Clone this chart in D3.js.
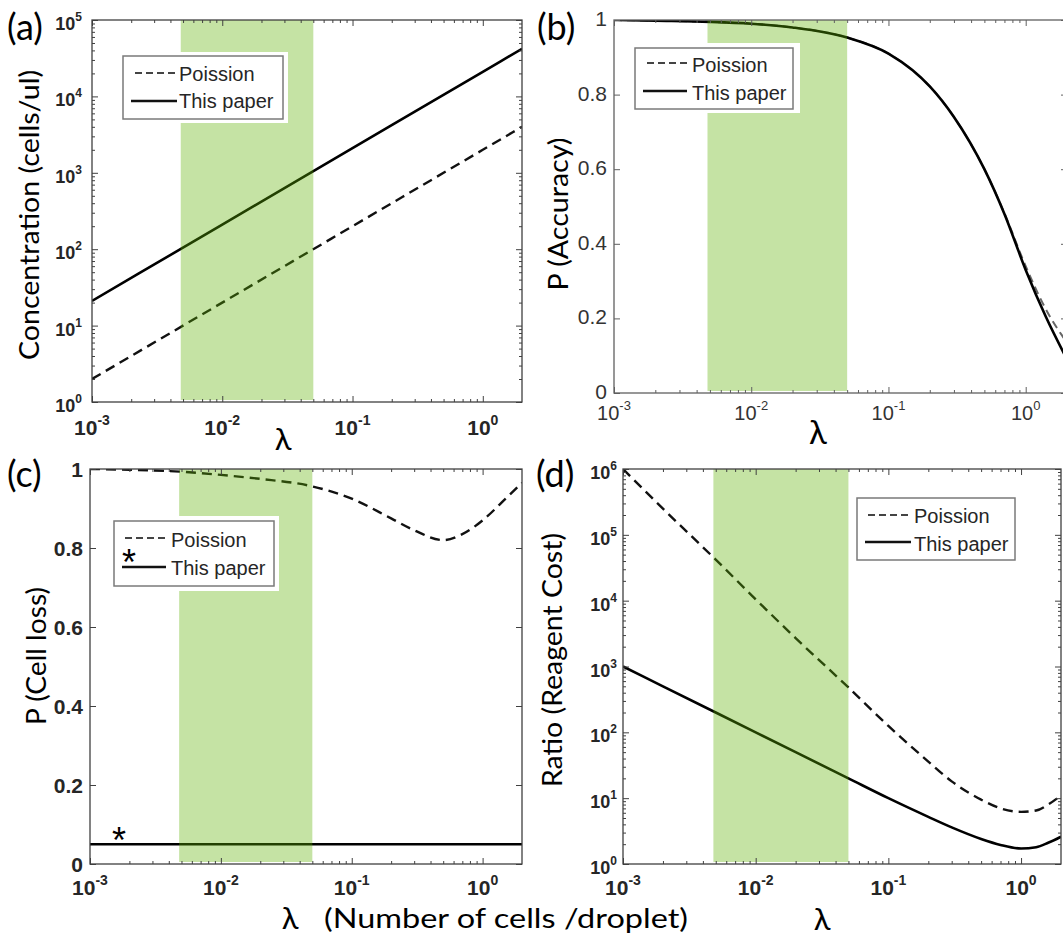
<!DOCTYPE html>
<html>
<head>
<meta charset="utf-8">
<script src="https://cdn.jsdelivr.net/npm/d3@7"></script>
<style>
  body { margin: 0; background: #fff; }
  svg { display: block; }
</style>
</head>
<body>
<svg id="chart" width="1063" height="936"></svg>
<script>
// ---- data ----
const xDomain = [0.001, 2];
const bandRange = [0.0048, 0.05];          // shaded lambda window
const seriesNames = ["Poission", "This paper"];
const xTickVals = [0.001, 0.01, 0.1, 1];

// (a) concentration
const lambdaA = [0.001, 0.01, 0.1, 1, 2];
const poissonA = [2, 20, 200, 2000, 4000];
const paperA = [21, 210, 2100, 21000, 42000];
const yTicksA = [1, 10, 100, 1000, 10000, 100000];

// (b) accuracy
const lambdaB = [0.001, 0.002, 0.005, 0.01, 0.02, 0.05, 0.1, 0.15, 0.2, 0.3, 0.5, 0.7, 1, 1.4, 2];
const poissonB = [1, 0.998, 0.995, 0.99, 0.98, 0.953, 0.91, 0.865, 0.822, 0.74, 0.6, 0.482, 0.34, 0.225, 0.135];
const paperB = [1, 0.998, 0.995, 0.99, 0.98, 0.953, 0.91, 0.865, 0.822, 0.74, 0.6, 0.48, 0.33, 0.205, 0.09];
const yTicksB = [0, 0.2, 0.4, 0.6, 0.8, 1];

// (c) cell loss
const lambdaC = [0.001, 0.002, 0.005, 0.01, 0.02, 0.05, 0.1, 0.2, 0.3, 0.5, 0.7, 1, 1.5, 2];
const poissonC = [1, 0.998, 0.993, 0.985, 0.975, 0.956, 0.925, 0.875, 0.845, 0.82, 0.835, 0.87, 0.925, 0.965];
const lambdaC2 = [0.001, 2];
const paperC = [0.05, 0.05];
const yTicksC = [0, 0.2, 0.4, 0.6, 0.8, 1];

// (d) reagent cost ratio
const lambdaD = [0.001, 0.002, 0.005, 0.01, 0.02, 0.05, 0.1, 0.2, 0.3, 0.5, 0.7, 1, 1.3, 1.6, 2];
const poissonD = [1e6, 2.5e5, 4.2e4, 1.05e4, 2.7e3, 480, 125, 36, 18, 9.5, 7, 6.2, 6.5, 8, 11];
const paperD = [1000, 500, 200, 100, 50, 20, 10, 5.2, 3.6, 2.4, 1.95, 1.72, 1.8, 2.1, 2.6];
const yTicksD = [1, 10, 100, 1000, 10000, 100000, 1000000];

// ---- layout ----
const svg = d3.select('#chart');
const TICK_FONT = "'Liberation Sans', Arial, sans-serif";
const TITLE_FONT = "Lato, 'Noto Sans', sans-serif";

const panels = [
  {
    id: 'a', tag: '(a)', tagX: 7, tagY: 40,
    left: 92, right: 522, top: 20, bottom: 402,
    logY: true, yDomain: [1, 1e5], yTicks: yTicksA,
    lines: [[lambdaA, poissonA, 'dash'], [lambdaA, paperA, 'solid']],
    bold: true, axisColor: '#404040',
    yLab: { gap: 10, dy: 10, size: 18 }, xLab: { dy: 33, size: 21 },
    title: 'Concentration (cells/ul)', titleX: 39, titleY: 215, titleLen: 290,
    legend: { white: [120, 52, 288, 123], box: [123, 56, 283, 119], dash: [135, 177, 73], solid: [131, 177, 101], tx: 179, ty: [81, 108] }
  },
  {
    id: 'b', tag: '(b)', tagX: 537, tagY: 40,
    left: 614, right: 1067, top: 20, bottom: 393,
    logY: false, yDomain: [0, 1], yTicks: yTicksB,
    lines: [[lambdaB, poissonB, 'dashGrey'], [lambdaB, paperB, 'solid']],
    bold: false, axisColor: '#606060',
    yLab: { gap: 7, dy: 6, size: 21 }, xLab: { dy: 27, size: 20 },
    title: 'P (Accuracy)', titleX: 568, titleY: 214, titleLen: 153,
    legend: { white: [700, 43, 800, 113], box: [635, 48, 793, 109], dash: [647, 687, 63], solid: [643, 687, 91], tx: 692, ty: [72, 100] }
  },
  {
    id: 'c', tag: '(c)', tagX: 7, tagY: 487,
    left: 90, right: 522, top: 469, bottom: 864,
    logY: false, yDomain: [0, 1], yTicks: yTicksC,
    lines: [[lambdaC, poissonC, 'dash'], [lambdaC2, paperC, 'solid']],
    bold: true, axisColor: '#404040',
    yLab: { gap: 7, dy: 8, size: 21 }, xLab: { dy: 31, size: 21 },
    title: 'P (Cell loss)', titleX: 46, titleY: 656, titleLen: 138,
    legend: { white: [110, 516, 279, 591], box: [114, 521, 274, 586], dash: [125, 166, 538], solid: [122, 166, 567], tx: 171, ty: [547, 575] }
  },
  {
    id: 'd', tag: '(d)', tagX: 536, tagY: 487,
    left: 623, right: 1061, top: 469, bottom: 864,
    logY: true, yDomain: [1, 1e6], yTicks: yTicksD,
    lines: [[lambdaD, poissonD, 'dash'], [lambdaD, paperD, 'solid']],
    bold: true, axisColor: '#404040',
    yLab: { gap: 6, dy: 10, size: 18 }, xLab: { dy: 31, size: 21 },
    title: 'Ratio (Reagent Cost)', titleX: 562, titleY: 660, titleLen: 254,
    legend: { white: null, box: [857, 498, 1015, 560], dash: [868, 911, 515], solid: [865, 911, 542], tx: 914, ty: [523, 551] }
  }
];

const lineStyles = {
  dash: { stroke: '#111', width: 2.4, dash: '10,6' },
  dashGrey: { stroke: '#666', width: 2, dash: '8,5' },
  solid: { stroke: '#000', width: 2.6, dash: null }
};

// minor ticks 2..9 per decade inside a log domain
function minorTicks(domain) {
  const out = [];
  const lo = Math.floor(Math.log10(domain[0]));
  const hi = Math.ceil(Math.log10(domain[1]));
  for (let k = lo; k < hi; k++) {
    for (let m = 2; m <= 9; m++) {
      const v = m * Math.pow(10, k);
      if (v > domain[0] && v < domain[1]) out.push(v);
    }
  }
  return out;
}

// "10" with superscript exponent
function powerText(sel, exp, size) {
  sel.text(null);
  sel.append('tspan').text('10');
  sel.append('tspan')
    .attr('font-size', Math.round(size * 0.66))
    .attr('dy', -size * 0.5)
    .text(exp);
}

function drawPanel(p) {
  const g = svg.append('g').attr('class', 'panel-' + p.id);
  const x = d3.scaleLog().domain(xDomain).range([p.left, p.right]);
  const y = (p.logY ? d3.scaleLog() : d3.scaleLinear()).domain(p.yDomain).range([p.bottom, p.top]);

  // clip to plot box
  svg.append('defs').append('clipPath').attr('id', 'clip-' + p.id)
    .append('rect')
    .attr('x', p.left).attr('y', p.top)
    .attr('width', p.right - p.left).attr('height', p.bottom - p.top);

  const plot = g.append('g').attr('clip-path', `url(#clip-${p.id})`);

  // curves
  const line = d3.line()
    .x(d => x(d[0]))
    .y(d => y(d[1]))
    .curve(d3.curveMonotoneX);

  p.lines.forEach(([xs, ys, style]) => {
    const s = lineStyles[style];
    plot.append('path')
      .datum(d3.zip(xs, ys))
      .attr('d', line)
      .attr('fill', 'none')
      .attr('stroke', s.stroke)
      .attr('stroke-width', s.width)
      .attr('stroke-dasharray', s.dash);
  });

  // green window, drawn over the curves (translucent)
  plot.append('rect')
    .attr('x', x(bandRange[0]))
    .attr('y', p.top)
    .attr('width', x(bandRange[1]) - x(bandRange[0]))
    .attr('height', p.bottom - p.top - 2)
    .attr('fill', '#5eb102')
    .attr('fill-opacity', 0.36);

  // axes (ticks pointing inward on all four sides)
  const axes = g.append('g').attr('class', 'axes');
  const major = 6, minor = 3;
  const addAxis = (axis, tx, ty) => {
    const a = axes.append('g').attr('transform', `translate(${tx},${ty})`).call(axis);
    a.select('.domain').remove();
    a.selectAll('line').attr('stroke', p.axisColor);
    a.selectAll('text').remove();
  };
  addAxis(d3.axisBottom(x).tickValues(xTickVals).tickSize(-major), 0, p.bottom);
  addAxis(d3.axisTop(x).tickValues(xTickVals).tickSize(-major), 0, p.top);
  addAxis(d3.axisBottom(x).tickValues(minorTicks(xDomain)).tickSize(-minor), 0, p.bottom);
  addAxis(d3.axisTop(x).tickValues(minorTicks(xDomain)).tickSize(-minor), 0, p.top);
  addAxis(d3.axisLeft(y).tickValues(p.yTicks).tickSize(-major), p.left, 0);
  addAxis(d3.axisRight(y).tickValues(p.yTicks).tickSize(-major), p.right, 0);
  if (p.logY) {
    addAxis(d3.axisLeft(y).tickValues(minorTicks(p.yDomain)).tickSize(-minor), p.left, 0);
    addAxis(d3.axisRight(y).tickValues(minorTicks(p.yDomain)).tickSize(-minor), p.right, 0);
  }

  axes.append('rect')
    .attr('x', p.left).attr('y', p.top)
    .attr('width', p.right - p.left).attr('height', p.bottom - p.top)
    .attr('fill', 'none')
    .attr('stroke', p.axisColor)
    .attr('stroke-width', 1.3);

  // tick labels
  const labG = g.append('g')
    .attr('font-family', TICK_FONT)
    .attr('font-weight', p.bold ? 'bold' : 'normal')
    .attr('fill', p.bold ? '#262626' : '#333');

  labG.selectAll('.xlab')
    .data(xTickVals)
    .join('text')
    .attr('class', 'xlab')
    .attr('x', d => x(d))
    .attr('y', p.bottom + p.xLab.dy)
    .attr('text-anchor', 'middle')
    .attr('font-size', p.xLab.size)
    .each(function (d) {
      powerText(d3.select(this), String(Math.round(Math.log10(d))), p.xLab.size);
    });

  labG.selectAll('.ylab')
    .data(p.yTicks)
    .join('text')
    .attr('class', 'ylab')
    .attr('x', p.left - p.yLab.gap)
    .attr('y', d => y(d) + p.yLab.dy)
    .attr('text-anchor', 'end')
    .attr('font-size', p.yLab.size)
    .each(function (d) {
      if (p.logY) {
        powerText(d3.select(this), String(Math.round(Math.log10(d))), p.yLab.size);
      } else {
        d3.select(this).text(d3.format('~g')(d));
      }
    });

  // axis title
  g.append('text')
    .attr('transform', `translate(${p.titleX},${p.titleY}) rotate(-90)`)
    .attr('text-anchor', 'middle')
    .attr('font-family', TITLE_FONT)
    .attr('font-size', 27)
    .attr('textLength', p.titleLen)
    .attr('lengthAdjust', 'spacingAndGlyphs')
    .attr('fill', '#000')
    .text(p.title);

  // panel tag
  g.append('text')
    .attr('x', p.tagX).attr('y', p.tagY)
    .attr('font-family', TITLE_FONT)
    .attr('font-size', 36)
    .attr('fill', '#000')
    .text(p.tag);

  // legend
  const L = p.legend;
  const lg = g.append('g').attr('class', 'legend');
  if (L.white) {
    lg.append('rect')
      .attr('x', L.white[0]).attr('y', L.white[1])
      .attr('width', L.white[2] - L.white[0]).attr('height', L.white[3] - L.white[1])
      .attr('fill', '#fff');
  }
  lg.append('rect')
    .attr('x', L.box[0]).attr('y', L.box[1])
    .attr('width', L.box[2] - L.box[0]).attr('height', L.box[3] - L.box[1])
    .attr('fill', '#fff')
    .attr('stroke', '#7a7a7a')
    .attr('stroke-width', 1.5);
  lg.append('line')
    .attr('x1', L.dash[0]).attr('x2', L.dash[1])
    .attr('y1', L.dash[2]).attr('y2', L.dash[2])
    .attr('stroke', '#444')
    .attr('stroke-width', 2)
    .attr('stroke-dasharray', '7,4');
  lg.append('line')
    .attr('x1', L.solid[0]).attr('x2', L.solid[1])
    .attr('y1', L.solid[2]).attr('y2', L.solid[2])
    .attr('stroke', '#111')
    .attr('stroke-width', 2.6);
  lg.selectAll('.ltext')
    .data(seriesNames)
    .join('text')
    .attr('class', 'ltext')
    .attr('x', L.tx)
    .attr('y', (d, i) => L.ty[i])
    .attr('font-family', TICK_FONT)
    .attr('font-size', 20)
    .attr('fill', '#262626')
    .text(d => d);

  return { x, y, g };
}

const drawn = panels.map(drawPanel);

// x titles
const xTitle = (txt, cx, by, size) => svg.append('text')
  .attr('x', cx).attr('y', by)
  .attr('text-anchor', 'middle')
  .attr('font-family', TITLE_FONT)
  .attr('font-size', size)
  .text(txt);

xTitle('λ', 283, 450, 31);
xTitle('λ', 818, 444, 33);
xTitle('λ', 290, 929, 31);
xTitle('λ', 822, 930, 31);
svg.append('text')
  .attr('x', 324).attr('y', 928)
  .attr('font-family', TITLE_FONT)
  .attr('font-size', 26)
  .attr('textLength', 364)
  .attr('lengthAdjust', 'spacingAndGlyphs')
  .text('(Number of cells /droplet)');

// asterisks in (c)
const gc = drawn[2].g;
gc.append('text').attr('x', 129).attr('y', 575).attr('text-anchor', 'middle')
  .attr('font-family', TICK_FONT).attr('font-size', 36).text('*');
gc.append('text').attr('x', 119).attr('y', 853).attr('text-anchor', 'middle')
  .attr('font-family', TICK_FONT).attr('font-size', 36).text('*');
</script>
</body>
</html>
